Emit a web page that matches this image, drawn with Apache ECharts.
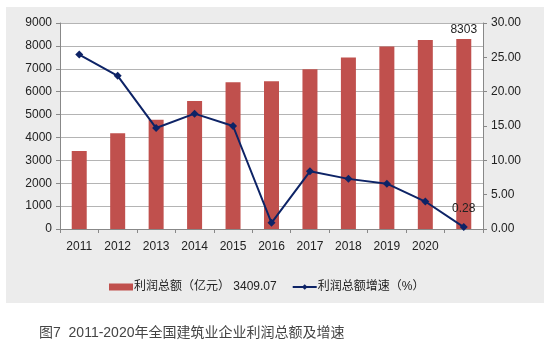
<!DOCTYPE html>
<html><head><meta charset="utf-8">
<script src="https://cdn.jsdelivr.net/npm/echarts@6/dist/echarts.min.js"></script>
<style>html,body{margin:0;padding:0;background:#fff}#c{width:554px;height:348px}</style>
</head><body><div id="c"></div>
<script>
var categories = ['2011','2012','2013','2014','2015','2016','2017','2018','2019','2020',''];
var profits = [3409.07, 4180, 4777, 5590, 6410, 6450, 6975, 7490, 7970, 8260, 8303];
var growth = [25.4, 22.3, 14.7, 16.8, 15.0, 0.9, 8.4, 7.3, 6.6, 4.0, 0.28];
var leftTicks = [0, 9000, 1000];
var rightTicks = [0, 30, 5];
var barName = '利润总额（亿元） 3409.07';
var lineName = '利润总额增速（%）';
var caption = '图7  2011-2020年全国建筑业企业利润总额及增速';

var font = 'Liberation Sans, Arial, Noto Sans CJK SC, sans-serif';
var chart = echarts.init(document.getElementById('c'));
var n = profits.length;
chart.setOption({
  backgroundColor: '#ffffff',
  animation: false,
  textStyle: { fontFamily: font },
  graphic: [{ type: 'rect', z: -10, shape: { x: 6, y: 7, width: 538, height: 296 }, style: { fill: '#ececec' } }],
  title: { text: caption, left: 34, top: 321, textStyle: { fontSize: 14, fontWeight: 'normal', color: '#444', fontFamily: font } },
  legend: {
    top: 276, left: 104, itemGap: 15, itemWidth: 24, itemHeight: 7,
    textStyle: { fontSize: 12, color: '#222', fontFamily: font, padding: [0,0,0,-4] },
    data: [{ name: barName, icon: 'rect' }, { name: lineName }]
  },
  grid: { left: 60, right: 71, top: 23, bottom: 119, show: true, backgroundColor: '#ffffff', borderWidth: 0 },
  xAxis: {
    type: 'category', data: categories, boundaryGap: true,
    axisLine: { lineStyle: { color: '#888' } },
    axisTick: { show: true, length: 4, lineStyle: { color: '#888' } },
    axisLabel: { color: '#222', fontSize: 12, margin: 12, interval: 0 }
  },
  yAxis: [{
    type: 'value', min: leftTicks[0], max: leftTicks[1], interval: leftTicks[2],
    axisLine: { show: true, lineStyle: { color: '#888' } },
    axisTick: { show: true, length: 4, lineStyle: { color: '#888' } },
    axisLabel: { color: '#222', fontSize: 12, margin: 8, formatter: function (v) { return String(v); } },
    splitLine: { lineStyle: { color: '#b4b4b4', width: 1 } }
  }, {
    type: 'value', min: rightTicks[0], max: rightTicks[1], interval: rightTicks[2], position: 'right',
    axisLine: { show: true, lineStyle: { color: '#888' } },
    axisTick: { show: true, length: 4, lineStyle: { color: '#888' } },
    axisLabel: { color: '#222', fontSize: 12, margin: 8, formatter: function (v) { return v.toFixed(2); } },
    splitLine: { show: false }
  }],
  series: [{
    name: barName, type: 'bar', data: profits.map(function (v, i) {
      return i === n - 1 ? { value: v, label: { show: true, position: 'top', distance: 3, color: '#222', fontSize: 12 } } : v;
    }),
    barWidth: 15, itemStyle: { color: '#c0504d' }
  }, {
    name: lineName, type: 'line', yAxisIndex: 1, data: growth.map(function (v, i) {
      return i === n - 1 ? { value: v, label: { show: true, position: 'top', distance: 8, color: '#222', fontSize: 12 } } : v;
    }),
    symbol: 'diamond', symbolSize: 8, lineStyle: { color: '#0d2366', width: 2 },
    itemStyle: { color: '#0d2366' }
  }]
});
</script></body></html>
